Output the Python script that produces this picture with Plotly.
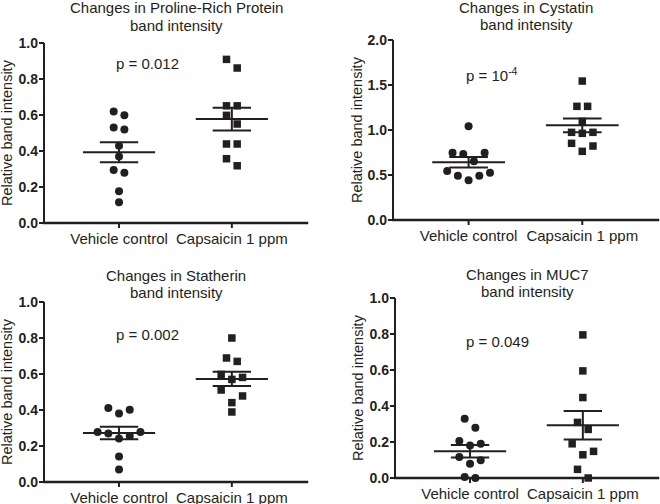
import numpy as np
import plotly.graph_objects as go

# ---------------- data ----------------
categories = ["Vehicle control", "Capsaicin 1 ppm"]
panel_titles = [
    ("Changes in Proline-Rich Protein", "band intensity"),
    ("Changes in Cystatin", "band intensity"),
    ("Changes in Statherin", "band intensity"),
    ("Changes in MUC7", "band intensity"),
]
p_labels = ["p = 0.012", "p = 10<sup>-4</sup>", "p = 0.002", "p = 0.049"]
y_axis_title = "Relative band intensity"

prp_vehicle = [0.619, 0.598, 0.530, 0.520, 0.429, 0.370, 0.294, 0.279, 0.177, 0.115]
prp_capsaicin = [0.909, 0.861, 0.651, 0.651, 0.598, 0.550, 0.439, 0.439, 0.357, 0.318]
cys_vehicle = [1.041, 0.748, 0.748, 0.733, 0.652, 0.544, 0.526, 0.493, 0.493, 0.441]
cys_capsaicin = [1.544, 1.263, 1.263, 1.096, 0.974, 0.974, 0.963, 0.852, 0.822, 0.763]
sta_vehicle = [0.411, 0.402, 0.380, 0.278, 0.278, 0.269, 0.256, 0.241, 0.141, 0.069]
sta_capsaicin = [0.800, 0.689, 0.670, 0.598, 0.581, 0.570, 0.511, 0.478, 0.441, 0.389]
muc_vehicle = [0.329, 0.279, 0.205, 0.190, 0.181, 0.116, 0.098, 0.079, 0.006, 0.0]
muc_capsaicin = [0.795, 0.595, 0.447, 0.309, 0.270, 0.190, 0.148, 0.129, 0.048, 0.0]

y_max = [1.0, 2.0, 1.0, 1.0]
y_dtick = [0.2, 0.5, 0.2, 0.2]

series = [
    (prp_vehicle, prp_capsaicin),
    (cys_vehicle, cys_capsaicin),
    (sta_vehicle, sta_capsaicin),
    (muc_vehicle, muc_capsaicin),
]

# ---------------- layout / style ----------------
W, H = 660, 504
BLACK = "#231f20"
FONT = "Arial, Liberation Sans, Helvetica, sans-serif"
X_RANGE = [-0.665, 1.675]
TICK_PX = 5
AXIS_W = 2
PAD_L, PAD_B, PAD_T, PAD_R = 9, 9, 2, 2   # extra plot area so axis lines/ticks are not clipped

panels = [
    dict(x0=44, x1=308, yt=43, yb=223, title_y=(8, 25), ytitle_x=7, p=(0.25, 0.888)),
    dict(x0=393, x1=659, yt=40, yb=220, title_y=(8, 24), ytitle_x=357, p=(0.21, 1.62)),
    dict(x0=44, x1=308, yt=302, yb=482, title_y=(275, 292), ytitle_x=7, p=(0.25, 0.822)),
    dict(x0=395, x1=659, yt=298, yb=478, title_y=(274, 291), ytitle_x=358, p=(0.24, 0.76)),
]

MEAN_HALF = 0.32
SEM_HALF = 0.17
SWARM_THRESH_PX = 9.2
SWARM_STEP_PX = 10.7


def swarm_offsets(vals, px_per_unit, px_per_cat):
    vals = np.asarray(vals, dtype=float)
    order = np.argsort(-vals, kind="stable")
    groups, cur = [], [order[0]]
    for a, b in zip(order[:-1], order[1:]):
        if (vals[a] - vals[b]) * px_per_unit < SWARM_THRESH_PX:
            cur.append(b)
        else:
            groups.append(cur)
            cur = [b]
    groups.append(cur)
    off = np.zeros(len(vals))
    for g in groups:
        n = len(g)
        slots = list((np.arange(n) - (n - 1) / 2.0))
        seq = []
        lo, hi = 0, n - 1
        while lo <= hi:
            seq.append(slots[lo])
            if hi != lo:
                seq.append(slots[hi])
            lo += 1
            hi -= 1
        for idx, s in zip(g, seq):
            off[idx] = s * SWARM_STEP_PX / px_per_cat
    return off


fig = go.Figure()
annotations = []
layout_axes = {}

for i, (pan, (veh, cap)) in enumerate(zip(panels, series)):
    n = i + 1
    xa = "x" if n == 1 else f"x{n}"
    ya = "y" if n == 1 else f"y{n}"
    xkey = "xaxis" if n == 1 else f"xaxis{n}"
    ykey = "yaxis" if n == 1 else f"yaxis{n}"

    px_per_cat = (pan["x1"] - pan["x0"]) / (X_RANGE[1] - X_RANGE[0])
    px_per_unit = (pan["yb"] - pan["yt"]) / y_max[i]
    pad_r = min(PAD_R, W - pan["x1"])
    yticks = np.round(np.arange(0, y_max[i] + 1e-9, y_dtick[i]), 2)

    xl = X_RANGE[0]
    dx = TICK_PX / px_per_cat
    dy = TICK_PX / px_per_unit
    hw_y = (AXIS_W / 2) / px_per_unit   # half line width in data units (vertical)
    hw_x = (AXIS_W / 2) / px_per_cat    # half line width in data units (horizontal)

    # x axis baseline drawn as a thin filled band (robust against stroke issues)
    fig.add_trace(go.Scatter(
        x=[xl - hw_x, X_RANGE[1], X_RANGE[1], xl - hw_x, xl - hw_x],
        y=[hw_y, hw_y, -hw_y, -hw_y, hw_y],
        mode="lines", fill="toself", fillcolor=BLACK,
        line=dict(color=BLACK, width=0.5), xaxis=xa, yaxis=ya,
        showlegend=False, hoverinfo="skip"))

    # y axis line + tick marks
    ax_x = [xl, xl, None]
    ax_y = [0, y_max[i], None]
    for t in yticks:
        ax_x += [xl - dx, xl, None]
        ax_y += [t, t, None]
    for c in range(len(categories)):
        ax_x += [c, c, None]
        ax_y += [0, -dy, None]
    fig.add_trace(go.Scatter(x=ax_x, y=ax_y, mode="lines", xaxis=xa, yaxis=ya,
                             line=dict(color=BLACK, width=AXIS_W, simplify=False),
                             showlegend=False, hoverinfo="skip"))

    # mean & SEM
    lx, ly = [], []
    for c, vals in enumerate((veh, cap)):
        v = np.asarray(vals, dtype=float)
        m = v.mean()
        sem = v.std(ddof=1) / np.sqrt(len(v))
        lx += [c - MEAN_HALF, c + MEAN_HALF, None,
               c - SEM_HALF, c + SEM_HALF, None,
               c - SEM_HALF, c + SEM_HALF, None,
               c, c, None]
        ly += [m, m, None,
               m + sem, m + sem, None,
               m - sem, m - sem, None,
               m - sem, m + sem, None]
    fig.add_trace(go.Scatter(x=lx, y=ly, mode="lines", xaxis=xa, yaxis=ya,
                             line=dict(color=BLACK, width=2), showlegend=False,
                             hoverinfo="skip"))

    # data points
    for c, (vals, sym, size) in enumerate(((veh, "circle", 8), (cap, "square", 7.5))):
        off = swarm_offsets(vals, px_per_unit, px_per_cat)
        fig.add_trace(go.Scatter(x=c + off, y=vals, mode="markers", xaxis=xa, yaxis=ya,
                                 marker=dict(symbol=sym, size=size, color=BLACK,
                                             line=dict(width=0)),
                                 showlegend=False, cliponaxis=False,
                                 name=categories[c]))

    layout_axes[xkey] = dict(
        domain=[(pan["x0"] - PAD_L) / W, (pan["x1"] + pad_r) / W], anchor=ya,
        range=[X_RANGE[0] - PAD_L / px_per_cat, X_RANGE[1] + pad_r / px_per_cat],
        tickmode="array", tickvals=[0, 1], ticktext=categories,
        showline=False, ticks="", showgrid=False, zeroline=False,
        tickfont=dict(family=FONT, size=15, color=BLACK),
        ticklabelstandoff=5 - PAD_B, automargin=False,
    )
    layout_axes[ykey] = dict(
        domain=[1 - (pan["yb"] + PAD_B) / H, 1 - (pan["yt"] - PAD_T) / H], anchor=xa,
        range=[-PAD_B / px_per_unit, y_max[i] + PAD_T / px_per_unit],
        tickmode="array", tickvals=list(yticks),
        ticktext=[f"<b>{t:.1f}</b>" for t in yticks],
        showline=False, ticks="", showgrid=False, zeroline=False,
        tickfont=dict(family=FONT, size=14, color=BLACK),
        ticklabelstandoff=TICK_PX - PAD_L, automargin=False,
    )

    for line_text, ypix in zip(panel_titles[i], pan["title_y"]):
        annotations.append(dict(
            text=line_text, xref="paper", yref="paper",
            x=(pan["x0"] + pan["x1"]) / 2 / W, y=1 - ypix / H,
            xanchor="center", yanchor="middle", showarrow=False,
            font=dict(family=FONT, size=15, color=BLACK)))
    annotations.append(dict(
        text=y_axis_title, xref="paper", yref="paper",
        x=pan["ytitle_x"] / W, y=1 - (pan["yt"] + pan["yb"]) / 2 / H, textangle=-90,
        xanchor="center", yanchor="middle", showarrow=False,
        font=dict(family=FONT, size=14.5, color=BLACK)))
    annotations.append(dict(
        text=p_labels[i], xref=xa, yref=ya, x=pan["p"][0], y=pan["p"][1],
        xanchor="center", yanchor="middle", showarrow=False,
        font=dict(family=FONT, size=15, color=BLACK)))

fig.update_layout(
    template="none",
    width=W, height=H, margin=dict(l=0, r=0, t=0, b=0, pad=0, autoexpand=False),
    paper_bgcolor="white", plot_bgcolor="white",
    font=dict(family=FONT, color=BLACK),
    annotations=annotations, showlegend=False, **layout_axes,
)

fig.write_html(
    "out.html",
    config={"displayModeBar": False, "staticPlot": True},
    post_script="document.body.style.margin='0';document.body.style.padding='0';",
)
